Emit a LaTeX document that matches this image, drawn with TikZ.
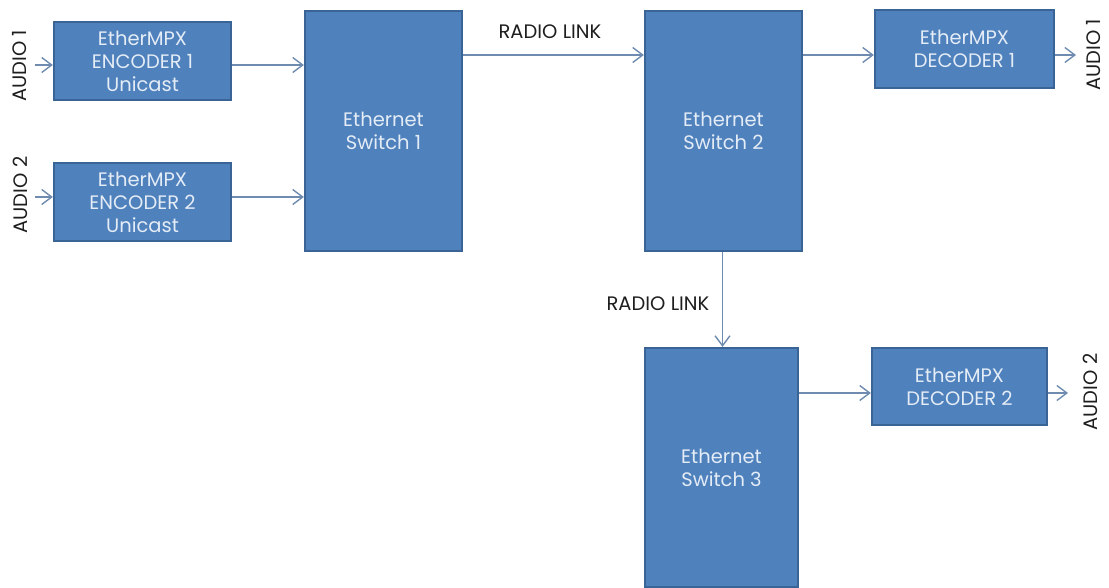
\documentclass[tikz,border=0pt]{standalone}
\usepackage{fontspec}
\setmainfont{Poppins}
\usetikzlibrary{arrows.meta}
\definecolor{boxfill}{HTML}{4F81BD}
\definecolor{boxline}{HTML}{3A6496}
\definecolor{arrowc}{HTML}{6F8CB0}
\definecolor{btext}{HTML}{E4ECF6}
\definecolor{ltext}{HTML}{1E1E1E}
\tikzset{
  blk/.style={draw=boxline, line width=2.2pt, fill=boxfill, text=btext, font=\fontsize{19.5}{23}\selectfont,
    align=center, inner sep=0pt, minimum width=#1},
  blk/.default=176pt,
  lnk/.style={draw=arrowc, line width=1.6pt, -{Straight Barb[length=10pt,width=15pt,line width=1.4pt]}},
  lbl/.style={text=ltext, font=\fontsize{19.5}{22}\selectfont, inner sep=0pt},
}
\begin{document}
\begin{tikzpicture}[x=1pt,y=-1pt]
\useasboundingbox (0,0) rectangle (1109,588);
% blocks
\node[blk=177pt, minimum height=78pt] (enc1) at (142.5,61) {EtherMPX\\ENCODER 1\\Unicast};
\node[blk=177pt, minimum height=78pt] (enc2) at (142.5,202) {EtherMPX\\ENCODER 2\\Unicast};
\node[blk=157pt, minimum height=240pt] (sw1) at (383.5,131) {Ethernet\\Switch 1};
\node[blk=157pt, minimum height=240pt] (sw2) at (723.5,131) {Ethernet\\Switch 2};
\node[blk=153pt, minimum height=239pt] (sw3) at (721.5,467.5) {Ethernet\\Switch 3};
\node[blk=179pt, minimum height=78pt] (dec1) at (964.5,49) {EtherMPX\\DECODER 1};
\node[blk=175pt, minimum height=77pt] (dec2) at (959.5,386.5) {EtherMPX\\DECODER 2};
% labels
\node[lbl, rotate=90] (a1in) at (20,66) {AUDIO 1};
\node[lbl, rotate=90] (a2in) at (20,195) {AUDIO 2};
\node[lbl, rotate=90] (a1out) at (1094,55) {AUDIO 1};
\node[lbl, rotate=90] (a2out) at (1090,392) {AUDIO 2};
\node[lbl] (rl1) at (550,32) {RADIO LINK};
\node[lbl] (rl2) at (658,304) {RADIO LINK};
% free ends
\coordinate (i1) at (35,65);
\coordinate (i2) at (35,197);
\coordinate (o1) at (1076,55);
\coordinate (o2) at (1068,393);
% connectors
\draw[lnk] (i1) -- (i1 -| enc1.west);
\draw[lnk] (i2) -- (i2 -| enc2.west);
\draw[lnk] (enc1.east |- i1) -- (sw1.west |- i1);
\draw[lnk] ([yshift=5pt]enc2.east) -- ([yshift=5pt]enc2.east -| sw1.west);
\draw[lnk] (sw1.east |- o1) -- (sw2.west |- o1);
\draw[lnk] (sw2.east |- o1) -- (dec1.west |- o1);
\draw[lnk] (dec1.east |- o1) -- (o1);
\draw[lnk] ([xshift=-1pt]sw2.south) -- ([xshift=-1pt]sw2.south |- sw3.north);
\draw[lnk] (sw3.east |- o2) -- (dec2.west |- o2);
\draw[lnk] (dec2.east |- o2) -- (o2);
\end{tikzpicture}
\end{document}
